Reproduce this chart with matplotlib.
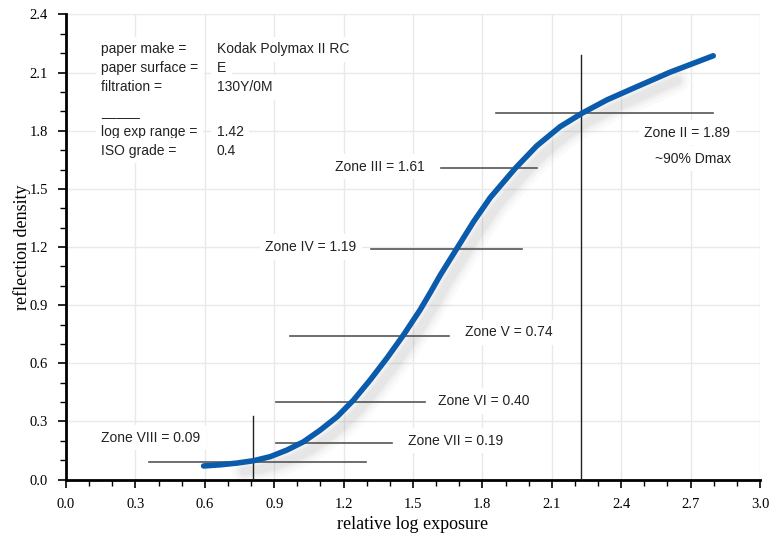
import matplotlib.pyplot as plt
import matplotlib.transforms as mtransforms
from matplotlib.ticker import MultipleLocator, FormatStrFormatter

# characteristic curve
log_exposure = [0.595, 0.667, 0.740, 0.811, 0.883, 0.955, 1.027, 1.099, 1.172, 1.243,
                1.315, 1.387, 1.459, 1.531, 1.575, 1.618, 1.690, 1.762, 1.834, 1.942,
                2.035, 2.136, 2.230, 2.338, 2.467, 2.611, 2.798]
density = [0.070, 0.076, 0.085, 0.097, 0.118, 0.152, 0.195, 0.255, 0.324, 0.410,
           0.514, 0.626, 0.746, 0.876, 0.965, 1.055, 1.193, 1.331, 1.455, 1.606,
           1.722, 1.821, 1.890, 1.959, 2.027, 2.102, 2.187]

# zone markers: label, density, line start, line end
zone_names = ['Zone II', 'Zone III', 'Zone IV', 'Zone V', 'Zone VI', 'Zone VII', 'Zone VIII']
zone_density = [1.89, 1.61, 1.19, 0.74, 0.40, 0.19, 0.09]
zone_x0 = [1.857, 1.62, 1.317, 0.968, 0.907, 0.907, 0.358]
zone_x1 = [2.795, 2.035, 1.97, 1.654, 1.55, 1.41, 1.296]

# vertical markers (speed point and 90% Dmax point)
vline_x = [0.81, 2.225]
vline_top = [0.33, 2.19]

info_keys = ['paper make =', 'paper surface =', 'filtration =', '_____',
             'log exp range =', 'ISO grade =']
info_vals = ['Kodak Polymax II RC', 'E', '130Y/0M', '', '1.42', '0.4']

plt.rcParams['font.family'] = ['Liberation Sans', 'DejaVu Sans']
serif = ['Liberation Serif', 'DejaVu Serif']

fig = plt.figure(figsize=(7.71, 5.35), dpi=100)
ax = fig.add_axes([0.0856, 0.1037, 0.9001, 0.8692])
ax.set_xlim(0, 3.0)
ax.set_ylim(0, 2.4)

ax.grid(True, which='major', color='#e9e9e9', lw=1, zorder=0)
ax.set_axisbelow(True)

for side in ['top', 'right']:
    ax.spines[side].set_visible(False)
for side in ['left', 'bottom']:
    ax.spines[side].set_linewidth(2)

ax.xaxis.set_major_locator(MultipleLocator(0.3))
ax.xaxis.set_minor_locator(MultipleLocator(0.1))
ax.yaxis.set_major_locator(MultipleLocator(0.3))
ax.yaxis.set_minor_locator(MultipleLocator(0.1))
ax.xaxis.set_major_formatter(FormatStrFormatter('%.1f'))
ax.yaxis.set_major_formatter(FormatStrFormatter('%.1f'))
ax.tick_params(which='major', length=6, width=1.2, labelsize=10.5, pad=7)
ax.tick_params(which='minor', length=4, width=1.0)
for lab in ax.get_xticklabels() + ax.get_yticklabels():
    lab.set_family(serif)

ax.set_xlabel('relative log exposure', family=serif, fontsize=13, labelpad=4)
ax.set_ylabel('reflection density', family=serif, fontsize=13, labelpad=-1)

# soft shadow under the curve
for w, a in [(18, 0.03), (13, 0.04), (9, 0.05), (6, 0.06)]:
    shadow = mtransforms.offset_copy(ax.transData, fig=fig, x=5, y=-6, units='points')
    ax.plot(log_exposure[2:-1], density[2:-1], color='#777777', lw=w, alpha=a,
            solid_capstyle='round', solid_joinstyle='round', transform=shadow, zorder=2)

# zone lines
for y, x0, x1 in zip(zone_density, zone_x0, zone_x1):
    ax.plot([x0, x1], [y, y], color='#555555', lw=1.2, zorder=3)
for x, top in zip(vline_x, vline_top):
    ax.plot([x, x], [0, top], color='#222222', lw=1.0, zorder=3)

ax.plot(log_exposure, density, color='#0a5bab', lw=4, solid_capstyle='round',
        solid_joinstyle='round', zorder=4)

box = dict(facecolor='white', edgecolor='none', pad=4)
lab_kw = dict(fontsize=10, color='#222222', va='center', bbox=box, zorder=5)
# zone labels
ax.text(2.50, 1.79, 'Zone II = 1.89', ha='left', **lab_kw)
ax.text(2.875, 1.655, '~90% Dmax', ha='right', **lab_kw)
ax.text(1.55, 1.615, 'Zone III = 1.61', ha='right', **lab_kw)
ax.text(1.255, 1.20, 'Zone IV = 1.19', ha='right', **lab_kw)
ax.text(1.725, 0.76, 'Zone V = 0.74', ha='left', **lab_kw)
ax.text(1.607, 0.405, 'Zone VI = 0.40', ha='left', **lab_kw)
ax.text(1.477, 0.20, 'Zone VII = 0.19', ha='left', **lab_kw)
ax.text(0.365, 0.215, 'Zone VIII = 0.09', ha='center', **lab_kw)

# paper info block
info_y = [2.22, 2.122, 2.024, 1.895, 1.795, 1.697]
for key, val, y in zip(info_keys, info_vals, info_y):
    ax.text(0.152, y, key, ha='left', fontsize=10, color='#222222', va='center',
            bbox=box, zorder=5)
    if val:
        ax.text(0.652, y, val, ha='left', fontsize=10, color='#222222', va='center',
                bbox=box, zorder=5)

fig.savefig('out.png', dpi=100)
